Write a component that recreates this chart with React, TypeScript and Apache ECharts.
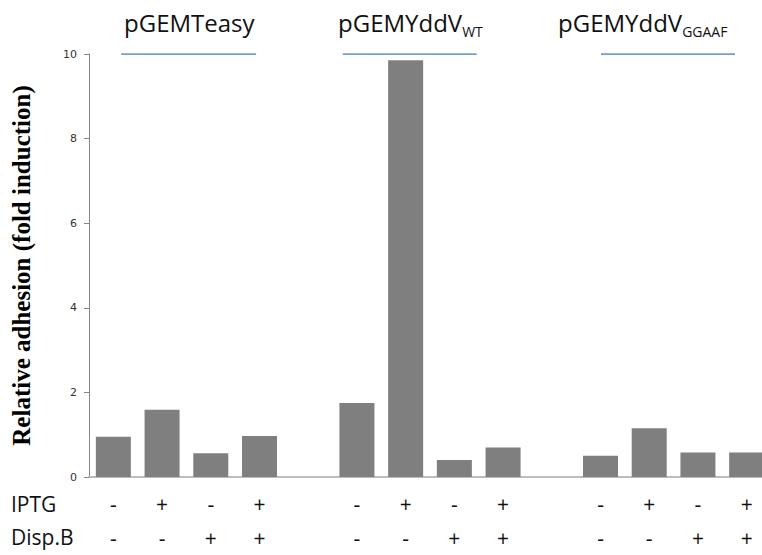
import React, { useEffect, useRef } from "react";
import * as echarts from "echarts";

// ---- data ----
const headerMain = ["pGEMTeasy", "pGEMYddV", "pGEMYddV"];
const headerSub = ["", "WT", "GGAAF"];
const iptg = ["-", "+", "-", "+"];
const dispB = ["-", "-", "+", "+"];
const valuesTeasy = [0.95, 1.59, 0.56, 0.97];
const valuesWT = [1.75, 9.85, 0.4, 0.7];
const valuesGGAAF = [0.5, 1.15, 0.58, 0.58];
const yTicks = [0, 2, 4, 6, 8, 10];
// header bracket spans in category-slot units
const headerSpans = [
  [0.66, 3.43],
  [5.21, 7.96],
  [10.51, 13.26],
];

const groupValues = [valuesTeasy, valuesWT, valuesGGAAF];

export default function App() {
  const ref = useRef<HTMLDivElement>(null);
  useEffect(() => {
    if (!ref.current) return;
    const chart = echarts.init(ref.current, null, { renderer: "svg" });

    const catKeys: string[] = [];
    const catLabels: string[] = [];
    const barData: (number | string)[] = [];
    groupValues.forEach((vals, g) => {
      vals.forEach((v, i) => {
        catKeys.push(`g${g}-${i}`);
        catLabels.push(`${iptg[i]}\n${dispB[i]}`);
        barData.push(v);
      });
      if (g < groupValues.length - 1) {
        catKeys.push(`gap${g}`);
        catLabels.push("");
        barData.push("-");
      }
    });

    const canvas = document.createElement("canvas");
    const ctx = canvas.getContext("2d")!;
    const mainFont = "24px 'Open Sans'";
    ctx.font = mainFont;
    const headerLeft = [124, 338, 558];
    const graphics: any[] = [];
    headerMain.forEach((t, i) => {
      graphics.push({
        type: "text",
        left: headerLeft[i],
        top: 10,
        style: { text: t, font: mainFont, fill: "#111" },
      });
      if (headerSub[i]) {
        const w = ctx.measureText(t).width;
        graphics.push({
          type: "text",
          left: headerLeft[i] + w,
          top: 24,
          style: { text: headerSub[i], font: "14px 'Open Sans'", fill: "#111" },
        });
      }
    });
    graphics.push({
      type: "text",
      left: 11,
      top: 493,
      style: { text: "IPTG", font: "21px 'Open Sans'", fill: "#111" },
    });
    graphics.push({
      type: "text",
      left: 11,
      top: 526,
      style: { text: "Disp.B", font: "21px 'Open Sans'", fill: "#111" },
    });

    chart.setOption({
      animation: false,
      backgroundColor: "#fff",
      grid: {
        left: 89,
        top: 54,
        width: 682,
        height: 423,
        containLabel: false,
        outerBoundsMode: "none",
      },
      xAxis: [
        {
          type: "category",
          data: catKeys,
          axisLine: { lineStyle: { color: "#a6a6a6", width: 1.5 } },
          axisTick: { show: false },
          axisLabel: {
            interval: 0,
            formatter: (_v: string, i: number) => catLabels[i],
            fontFamily: "Open Sans",
            fontSize: 21,
            lineHeight: 34,
            color: "#111",
            margin: 10,
          },
        },
        { type: "value", min: 0, max: 14, show: false },
      ],
      yAxis: {
        type: "value",
        min: yTicks[0],
        max: yTicks[yTicks.length - 1],
        interval: 2,
        name: "Relative adhesion (fold induction)",
        nameLocation: "middle",
        nameGap: 55,
        nameRotate: 90,
        nameTextStyle: {
          fontFamily: "Liberation Serif",
          fontWeight: "bold",
          fontSize: 25,
          color: "#000",
        },
        axisLine: { show: true, lineStyle: { color: "#868686" } },
        axisTick: { show: true, length: 5, lineStyle: { color: "#868686" } },
        axisLabel: {
          fontFamily: "DejaVu Sans",
          fontSize: 11,
          color: "#333",
          margin: 12,
        },
        splitLine: { show: false },
      },
      series: [
        {
          type: "bar",
          data: barData,
          barWidth: 35,
          itemStyle: { color: "#7f7f7f" },
        },
        {
          type: "lines",
          coordinateSystem: "cartesian2d",
          xAxisIndex: 1,
          yAxisIndex: 0,
          silent: true,
          data: headerSpans.map((s) => ({
            coords: [
              [s[0], yTicks[yTicks.length - 1]],
              [s[1], yTicks[yTicks.length - 1]],
            ],
          })),
          lineStyle: { color: "#4a7ebb", width: 1.5, opacity: 1 },
        },
      ],
      graphic: graphics,
    });
    return () => chart.dispose();
  }, []);
  return (
    <div
      ref={ref}
      style={{ position: "fixed", left: 0, top: 0, width: 762, height: 555 }}
    />
  );
}
